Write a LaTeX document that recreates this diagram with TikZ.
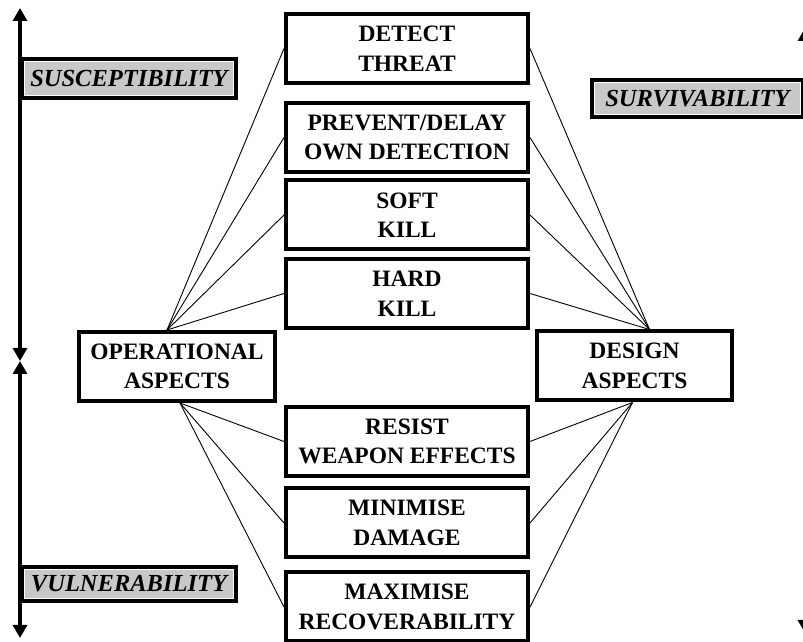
\documentclass[tikz,border=0pt]{standalone}
\usepackage{fontspec}
\setmainfont{Liberation Serif}
\usetikzlibrary{arrows.meta}
\definecolor{lblgray}{RGB}{200,200,200}
\begin{document}
\begin{tikzpicture}[x=1pt,y=1pt,
  box/.style={draw, line width=4pt, rectangle, align=center,
    font=\fontsize{23.5}{29.5}\selectfont\bfseries, inner sep=0pt,
    minimum width=242pt, minimum height=69pt},
  aspect/.style={box, minimum width=196pt},
  lbl/.style={draw, line width=4pt, fill=lblgray, inner sep=0pt,
    font=\fontsize{24.5}{28}\selectfont\bfseries\itshape,
    path picture={\draw[white, line width=1.2pt]
      ([shift={(2.6,-2.6)}]path picture bounding box.north west) rectangle
      ([shift={(-2.6,2.6)}]path picture bounding box.south east);}},
  conn/.style={line width=0.9pt},
  axisarrow/.style={line width=4pt,
    {Triangle[width=14pt,length=13pt]}-{Triangle[width=14pt,length=13pt]}}]
\useasboundingbox (0,0) rectangle (803,642);
\clip (0,0) rectangle (803,642);

% axes
\coordinate (lt) at (20,634);
\coordinate (lm) at (20,281);
\coordinate (lb) at (20,4);
\coordinate (rt) at (805,614);
\coordinate (rb) at (805,9);
\draw[axisarrow] (lt) -- (lm);
\draw[axisarrow] (lm) -- (lb);
\draw[axisarrow] (rt) -- (rb);

% boxes
\node[box] (detect)   at (407,593.5) {DETECT\\THREAT};
\node[box] (prevent)  at (407,504.5) {PREVENT/DELAY\\OWN DETECTION};
\node[box] (soft)     at (407,427)   {SOFT\\KILL};
\node[box] (hard)     at (407,348.5) {HARD\\KILL};
\node[box] (resist)   at (407,200.5) {RESIST\\WEAPON EFFECTS};
\node[box] (minimise) at (407,119)   {MINIMISE\\DAMAGE};
\node[box] (maximise) at (407,35)    {MAXIMISE\\RECOVERABILITY};

\node[aspect] (op)  at (177,275.5) {OPERATIONAL\\ASPECTS};
\node[aspect, minimum width=195pt] (des) at (634.5,276) {DESIGN\\ASPECTS};

% labels
\node[lbl, minimum width=214pt, minimum height=39pt] (susc) at (129,563.5) {SUSCEPTIBILITY};
\node[lbl, minimum width=214pt, minimum height=34pt] (vuln) at (129,58) {VULNERABILITY};
\node[lbl, minimum width=211pt, minimum height=37pt] (surv) at (697.5,543.5) {SURVIVABILITY};

% connectors
\foreach \b in {detect,prevent,soft,hard}{
  \draw[conn] ([xshift=-10pt]op.north) -- (\b.west);
  \draw[conn] ([xshift=15pt]des.north) -- (\b.east);
}
\foreach \b in {resist,minimise,maximise}{
  \draw[conn] ([xshift=3pt]op.south) -- (\b.west);
  \draw[conn] ([xshift=-2pt]des.south) -- (\b.east);
}
\end{tikzpicture}
\end{document}
